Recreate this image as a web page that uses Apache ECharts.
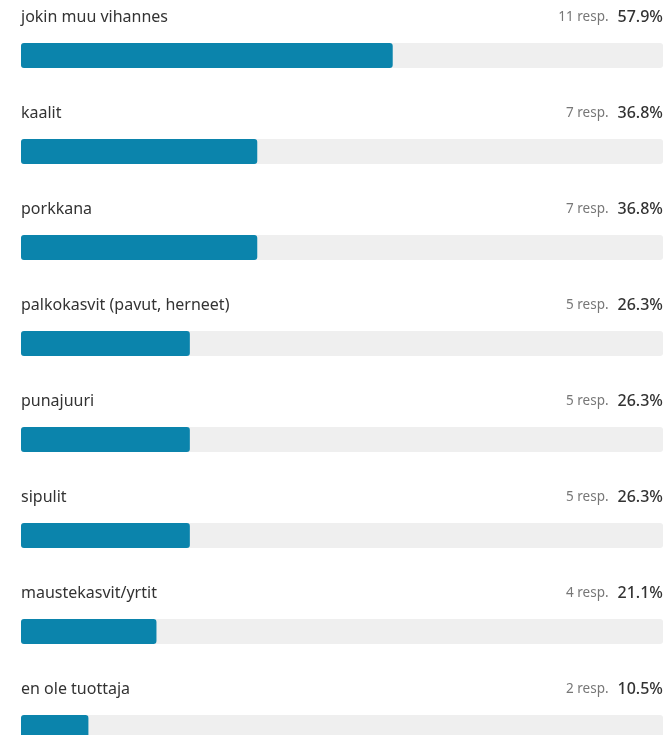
<!DOCTYPE html>
<html><head><meta charset="utf-8">
<script src="https://cdn.jsdelivr.net/npm/echarts@6/dist/echarts.min.js"></script>
<style>html,body{margin:0;padding:0;background:#fff;overflow:hidden}#c{width:670px;height:776px}</style>
</head><body><div id="c"></div>
<script>
const categories = ['jokin muu vihannes','kaalit','porkkana','palkokasvit (pavut, herneet)','punajuuri','sipulit','maustekasvit/yrtit','en ole tuottaja'];
const counts = [11,7,7,5,5,5,4,2];
const percents = [57.9,36.8,36.8,26.3,26.3,26.3,21.1,10.5];
const trackMax = 100;

const chart = echarts.init(document.getElementById('c'));
const font = '"Noto Sans", "Open Sans", sans-serif';
chart.setOption({
  animation:false,
  grid:{left:21,right:7,top:7.5,height:768},
  xAxis:{type:'value',min:0,max:trackMax,show:false},
  yAxis:{type:'category',data:categories,inverse:true,show:false},
  series:[
    {type:'bar',barWidth:25,data:categories.map(()=>trackMax),
     itemStyle:{color:'#efefef',borderRadius:3},silent:true,
     label:{show:true,position:[0,-26],align:'left',verticalAlign:'middle',
       formatter:'{b}',color:'#333',fontSize:16,fontFamily:font}},
    {type:'bar',barWidth:25,barGap:'-100%',data:percents,
     itemStyle:{color:'#0b84ac',borderRadius:3}},
    {type:'bar',barWidth:25,barGap:'-100%',data:categories.map(()=>trackMax),
     itemStyle:{color:'rgba(0,0,0,0)'},silent:true,
     label:{show:true,position:['100%',-26],align:'right',verticalAlign:'middle',
       formatter:p=>'{a|'+counts[p.dataIndex]+' resp.}{g|}{b|'+percents[p.dataIndex].toFixed(1)+'%}',
       rich:{a:{fontSize:13.5,color:'#777',fontFamily:font},g:{width:9},b:{fontSize:16,color:'#333',fontWeight:500,fontFamily:font}}}}
  ]
});
</script></body></html>
